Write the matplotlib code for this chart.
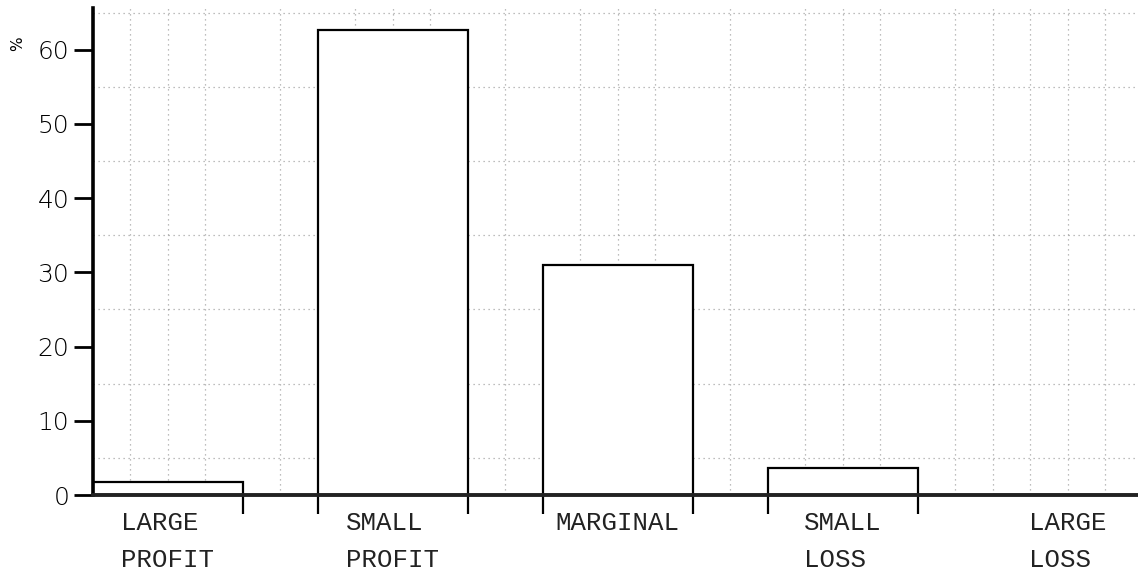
import matplotlib
matplotlib.use("Agg")
import matplotlib.pyplot as plt
from matplotlib.ticker import MultipleLocator, FixedLocator, NullFormatter

# Distribution of firms by result class (%)
categories = ["LARGE\nPROFIT", "SMALL\nPROFIT", "MARGINAL", "SMALL\nLOSS", "LARGE\nLOSS"]
percent = [1.8, 62.6, 31.0, 3.6, 0.0]
y_ticks = [0, 10, 20, 30, 40, 50, 60]

spacing = 1.5
bar_width = 1.0
positions = [i * spacing for i in range(len(categories))]

fig = plt.figure(figsize=(11.38, 5.77), dpi=100)
ax = fig.add_axes([0.0817, 0.142, 0.9183, 0.844])

x_left = positions[0] - bar_width / 2
ax.set_xlim(x_left, x_left + 6.97)
ax.set_ylim(0, 65.6)

# faint dotted ruling of the graph paper
ax.yaxis.set_minor_locator(MultipleLocator(5))
ax.xaxis.set_minor_locator(MultipleLocator(0.25))
ax.grid(which="minor", axis="both", color="#6e6e6e", linestyle=(0, (1, 3)),
        linewidth=0.9, alpha=0.6)
ax.set_axisbelow(True)

ax.bar(positions, percent, width=bar_width, color="white", edgecolor="black",
       linewidth=1.6, zorder=2)

# spines
for side in ("top", "right"):
    ax.spines[side].set_visible(False)
ax.spines["left"].set_linewidth(2.6)
ax.spines["bottom"].set_linewidth(2.8)
ax.spines["bottom"].set_color("#222222")

# y axis
ax.yaxis.set_major_locator(FixedLocator(y_ticks))
ax.tick_params(axis="y", which="major", direction="out", length=14, width=2.0,
               pad=3, labelsize=18)
ax.tick_params(axis="y", which="minor", length=0)
for lab in ax.get_yticklabels():
    lab.set_fontfamily("DejaVu Sans")
    lab.set_fontweight("light")

# x axis: ticks at bar edges, labels at bar centres
edges = []
for p, v in zip(positions, percent):
    if v > 0:
        for e in (p - bar_width / 2, p + bar_width / 2):
            if e > x_left + 1e-9:
                edges.append(e)
ax.xaxis.set_major_locator(FixedLocator(edges))
ax.xaxis.set_major_formatter(NullFormatter())
ax.tick_params(axis="x", which="major", direction="out", length=14, width=1.6)
ax.tick_params(axis="x", which="minor", length=0, labelbottom=False)

for p, name in zip(positions, categories):
    ax.text(p, -2.2, name, ha="center", va="top", multialignment="left",
            fontfamily="Liberation Mono", fontsize=18.5, linespacing=1.65,
            color="#222222")

fig.text(0.009, 0.925, "%", rotation=90, fontsize=11, ha="left", va="center",
         fontfamily="DejaVu Sans")

fig.savefig("out.png", dpi=100, facecolor="white")
